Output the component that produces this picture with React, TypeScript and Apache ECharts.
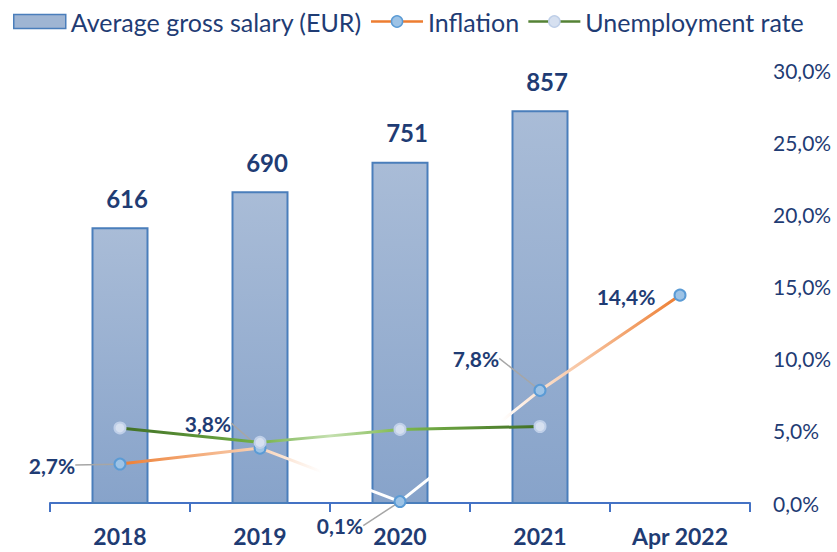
import React, { useEffect, useRef } from "react";
import * as echarts from "echarts";

const categories = ["2018", "2019", "2020", "2021", "Apr 2022"];
const salary = [616, 690, 751, 857, null];
const inflation = [2.7, 3.8, 0.1, 7.8, 14.4];
const unemployment = [5.2, 4.2, 5.1, 5.3, null];
const rightTicks = [0, 5, 10, 15, 20, 25, 30];
// which inflation labels carry a leader line
const inflationLeader = [true, true, true, true, false];

const NAVY = "#1F3C74";
const FONT = "Lato, 'Noto Sans', sans-serif";

// label offsets relative to the point (px)
const inflationLabelShift = [
  { dx: -68, dy: 1 },
  { dx: -52, dy: -25 },
  { dx: -60, dy: 24 },
  { dx: -64, dy: -32 },
  { dx: -54, dy: 1 },
];

export default function App() {
  const ref = useRef<HTMLDivElement>(null);
  useEffect(() => {
    document.body.style.margin = "0";
    const chart = echarts.init(ref.current!, null, { renderer: "svg" });
    const option = {
      animation: false,
      textStyle: { fontFamily: FONT },
      legend: {
        top: 4,
        left: 8,
        itemWidth: 52,
        itemHeight: 14,
        itemGap: 8,
        textStyle: { color: NAVY, fontSize: 25, fontFamily: FONT },
        data: [
          {
            name: "Average gross salary (EUR)",
            icon: "rect",
            itemStyle: { color: "#9FB5D3", borderColor: "#4A7EBB", borderWidth: 1.5 },
          },
          {
            name: "Inflation",
            lineStyle: { color: "#ED7D31", width: 2.5 },
            itemStyle: { color: "#9DC3E6", borderColor: "#5B9BD5", borderWidth: 1.5 },
          },
          {
            name: "Unemployment rate",
            lineStyle: { color: "#548235", width: 2.5 },
            itemStyle: { color: "#D6E0F0", borderColor: "#BFCFE8", borderWidth: 1.5 },
          },
        ],
      },
      grid: { left: 50, right: 87, top: 70, bottom: 49 },
      xAxis: {
        type: "category",
        data: categories,
        boundaryGap: true,
        axisLine: { lineStyle: { color: "#4472C4", width: 2 } },
        axisTick: { show: true, length: 9, interval: 0, lineStyle: { color: "#4472C4", width: 2 } },
        axisLabel: {
          interval: 0,
          margin: 21,
          color: NAVY,
          fontSize: 23,
          fontWeight: "bold",
          fontFamily: FONT,
        },
      },
      yAxis: [
        {
          type: "value",
          min: 48,
          max: 940,
          show: false,
          splitLine: { show: false },
        },
        {
          type: "value",
          position: "right",
          min: rightTicks[0],
          max: rightTicks[rightTicks.length - 1],
          interval: 5,
          splitLine: { show: false },
          axisLine: { show: false },
          axisTick: { show: false },
          axisLabel: {
            margin: 23,
            color: NAVY,
            fontSize: 21,
            fontFamily: FONT,
            formatter: (v: number) => v.toFixed(1).replace(".", ",") + "%",
          },
        },
      ],
      series: [
        {
          name: "Average gross salary (EUR)",
          type: "bar",
          yAxisIndex: 0,
          barWidth: 57,
          data: salary,
          itemStyle: {
            color: new echarts.graphic.LinearGradient(0, 0, 0, 1, [
              { offset: 0, color: "#A9BCD7" },
              { offset: 1, color: "#87A3CA" },
            ]),
            borderColor: "#4A7EBB",
            borderWidth: 2,
          },
          label: {
            show: true,
            position: "top",
            distance: 17,
            offset: [7, 0],
            color: NAVY,
            fontSize: 24,
            fontWeight: "bold",
            fontFamily: FONT,
          },
        },
        {
          name: "Inflation",
          type: "line",
          yAxisIndex: 1,
          data: inflation.map((v, i) => ({ value: v, labelLine: { show: inflationLeader[i] } })),
          symbol: "circle",
          symbolSize: 11,
          itemStyle: { color: "#9DC3E6", borderColor: "#5B9BD5", borderWidth: 2 },
          lineStyle: {
            width: 3,
            color: new echarts.graphic.LinearGradient(0, 0, 1, 0, [
              { offset: 0, color: "#ED7D31" },
              { offset: 0.25, color: "#F9D2B6" },
              { offset: 0.36, color: "#FFFFFF" },
              { offset: 0.68, color: "#FFFFFF" },
              { offset: 0.76, color: "#FBDDC8" },
              { offset: 0.88, color: "#F4AE7E" },
              { offset: 1, color: "#ED7D31" },
            ]),
          },
          label: {
            show: true,
            position: "inside",
            color: NAVY,
            fontSize: 21,
            fontWeight: "bold",
            fontFamily: FONT,
            formatter: (p: any) => p.value.toFixed(1).replace(".", ",") + "%",
          },
          labelLine: { show: true, lineStyle: { color: "#A6A6A6", width: 1.5 } },
          labelLayout: (p: any) => inflationLabelShift[p.dataIndex],
          z: 3,
        },
        {
          name: "Unemployment rate",
          type: "line",
          yAxisIndex: 1,
          data: unemployment,
          symbol: "circle",
          symbolSize: 11,
          itemStyle: { color: "#D6E0F0", borderColor: "#BFCFE8", borderWidth: 2 },
          lineStyle: {
            width: 3,
            color: new echarts.graphic.LinearGradient(0, 0, 1, 0, [
              { offset: 0, color: "#3F6E24" },
              { offset: 0.33, color: "#72B046" },
              { offset: 0.5, color: "#C5E0B0" },
              { offset: 0.67, color: "#7DB84C" },
              { offset: 1, color: "#3F6E24" },
            ]),
          },
          z: 4,
        },
      ],
    };
    chart.setOption(option as any);
    return () => chart.dispose();
  }, []);
  return <div ref={ref} style={{ width: 837, height: 552 }} />;
}
